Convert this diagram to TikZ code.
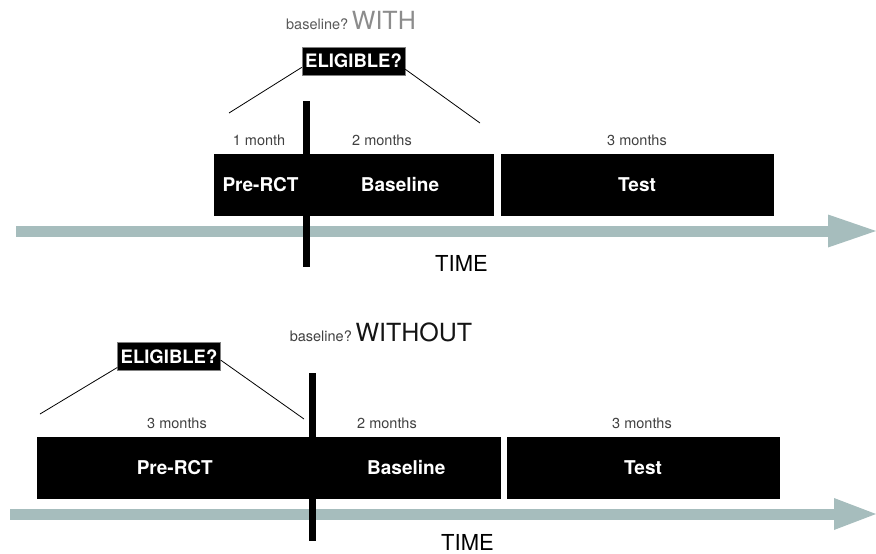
\documentclass[tikz,border=0pt]{standalone}
\usepackage{fontspec}
\setmainfont{TeX Gyre Heros}
\usetikzlibrary{arrows.meta}
\definecolor{timecol}{RGB}{166,189,189}

\begin{document}
\begin{tikzpicture}[x=1pt, y=-1pt,
  every node/.style={inner sep=0pt},
  phase/.style={rectangle, fill=black, draw=black, minimum height=61pt, text=white, font=\fontsize{19}{22}\selectfont\bfseries},
  elig/.style={rectangle, fill=black, draw=black!50, minimum width=103pt, minimum height=28pt, text=white, font=\fontsize{18.5}{22}\selectfont\bfseries},
  dur/.style={text=black!75, font=\fontsize{14.5}{16}\selectfont},
  timelabel/.style={font=\fontsize{22}{24}\selectfont, text depth=0pt},
  timeaxis/.style={draw=timecol, line width=11pt},
  cut/.style={draw=black, line width=7pt},
  fork/.style={draw=black, line width=0.8pt}
]
\useasboundingbox (0,0) rectangle (876,554);

\coordinate (axis1s) at (16,231);
\coordinate (axis1e) at (876,231);
\coordinate (axis2s) at (10,514);
\coordinate (axis2e) at (876,514);
\draw[timeaxis, -{Triangle[length=48pt, width=33pt, line width=0pt]}] (axis1s) -- (axis1e);
\draw[timeaxis, -{Triangle[length=42pt, width=32pt, line width=0pt]}] (axis2s) -- (axis2e);

\node[anchor=base] (with) at (351,29)
  {{\fontsize{14.5}{16}\selectfont\color{black!65}baseline?} {\color{black!45}\fontsize{25}{28}\selectfont WITH}};
\node[elig] (elig1) at (353.5,61) {ELIGIBLE?};
\coordinate (fork1l) at (229,113);
\coordinate (fork1r) at (480,123);
\draw[fork] (elig1.187) -- (fork1l);
\draw[fork] (elig1.351) -- (fork1r);

\node[dur] (dur1a) at (259,140) {1 month};
\node[dur] (dur1b) at (382,140) {2 months};
\node[dur] (dur1c) at (637,140) {3 months};

\node[phase, minimum width=93pt] (prerct1) at (260.5,184.5) {Pre-RCT};
\node[phase, minimum width=186pt] (base1) at (400,184.5) {Baseline};
\node[phase, minimum width=272pt] (test1) at (637,184.5) {Test};

\coordinate (cut1t) at (306.5,101);
\coordinate (cut1b) at (306.5,267);
\draw[cut] (cut1t) -- (cut1b);

\node[timelabel, anchor=base] (time1) at (461.5,271) {TIME};

\node[anchor=base] (without) at (381,341.7)
  {{\fontsize{14.5}{16}\selectfont\color{black!75}baseline?} {\color{black!92}\fontsize{25}{28}\selectfont WITHOUT}};
\node[elig] (elig2) at (169,356.5) {ELIGIBLE?};
\coordinate (fork2l) at (40,414);
\coordinate (fork2r) at (304,419);
\draw[fork] (elig2.192) -- (fork2l);
\draw[fork] (elig2.356) -- (fork2r);

\node[dur] (dur2a) at (177,423) {3 months};
\node[dur] (dur2b) at (387,423) {2 months};
\node[dur] (dur2c) at (642,423) {3 months};

\node[phase, minimum width=275.5pt] (prerct2) at (174.75,467.5) {Pre-RCT};
\node[phase, minimum width=187.5pt] (base2) at (406.25,467.5) {Baseline};
\node[phase, minimum width=272pt] (test2) at (643,467.5) {Test};

\coordinate (cut2t) at (312.5,373);
\coordinate (cut2b) at (312.5,541);
\draw[cut] (cut2t) -- (cut2b);

\node[timelabel, anchor=base] (time2) at (467.5,550) {TIME};
\end{tikzpicture}
\end{document}
